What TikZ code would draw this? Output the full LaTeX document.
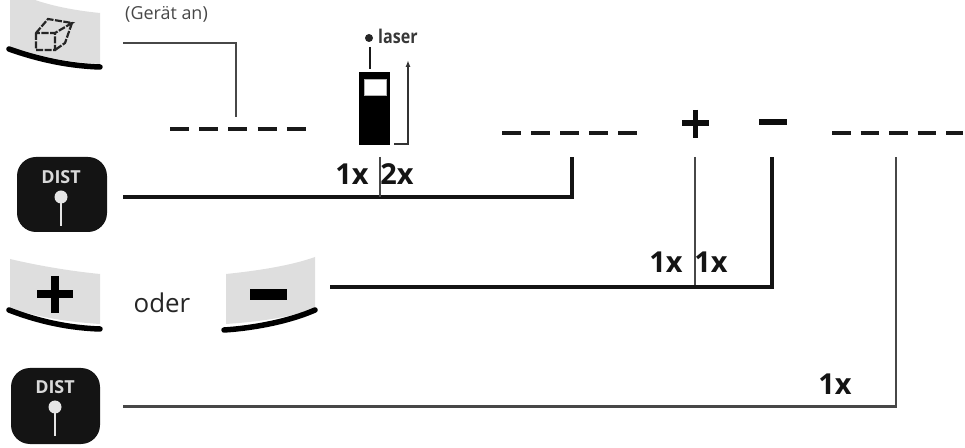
\documentclass[tikz,border=0pt]{standalone}
\usepackage{fontspec}
\setmainfont{Open Sans}
\usetikzlibrary{arrows.meta}
\tikzset{
 thickline/.style={line width=3.7bp,black!92},
 thinline/.style={line width=2bp,black!72},
 dashseg/.style={line width=4.5bp,black!90},
 keyface/.style={fill=black!13,draw=none},
 keyrim/.style={line width=5.5bp,line cap=round,black},
 lab/.style={inner sep=0pt,anchor=base,font=\fontsize{29}{34}\selectfont\bfseries,black!92},
 distlab/.style={white!85!black,inner sep=0pt,font=\fontsize{18}{20}\selectfont\bfseries},
}
\begin{document}
\begin{tikzpicture}[x=1bp,y=-1bp]
\useasboundingbox (0,0) rectangle (965,448);
% key 1
\fill[keyface] (10,0) -- (10,47) .. controls (40,58) and (70,62) .. (100,64) -- (100,13) .. controls (70,10) and (50,5) .. (35,0) -- cycle;
\draw[keyrim] (9,49) .. controls (40,60) and (70,66) .. (100,67);
\draw[line width=2.2bp,black!85,dash pattern=on 7bp off 1.5bp] (36,33) rectangle (55,50) (36,33) -- (48,19) -- (72,23) -- (55,33) (72,23) -- (65,43) -- (55,50);
\node[inner sep=0pt,anchor=base west,font=\fontsize{18}{20}\selectfont,black!72] (geraet) at (125,20) {(Gerät an)};
\coordinate (a1) at (123,43);
\coordinate (a2) at (236,43);
\coordinate (a3) at (236,117);
\draw[thinline] (a1) -- (a2) -- (a3);
\draw[dashseg,dash pattern=on 19bp off 10.2bp] (170,129) -- (306,129);
% laser device
\fill[black] (359,72) rectangle (390,145);
\fill[white,draw=black!30] (364,79) rectangle (386,95);
\fill[black!85] (369,38) circle (4bp);
\draw[line width=1.7bp,black!90] (370,47) -- (370,69);
\node[inner sep=0pt,font=\fontsize{19}{21}\selectfont\bfseries,black!78,xscale=.85,anchor=base west] (laser) at (378,44) {laser};
\draw[line width=1.7bp,black!80,-{Latex[length=7bp,width=5bp]}] (394,144) -- (408,144) -- (408,60);
\draw[dashseg,dash pattern=on 19bp off 10bp] (502,133) -- (637,133);
% DIST 1
\fill[black!92,rounded corners=19bp] (17,157) rectangle (107,232);
\node[distlab] (d1) at (61,177) {DIST};
\fill[white!90!black] (61,197) circle (6.5bp);
\draw[white!90!black,line width=1.5bp] (61,197) -- (61,226);
\draw[thickline] (123,197) -- (572,197) -- (572,157);
\draw[thinline] (380,157) -- (380,197);
\node[lab] (l1) at (352,185) {1x};
\node[lab] (l2) at (397,185) {2x};
% plus minus top
\draw[line width=5.5bp,black!95] (682,123) -- (709,123) (695.5,110) -- (695.5,138);
\draw[line width=6bp,black!95] (759,122) -- (787,122);
\draw[dashseg,dash pattern=on 18.5bp off 10bp] (832,133) -- (963,133);
\draw[thinline] (695,157) -- (695,287);
\draw[thickline] (330,287) -- (772,287) -- (772,157);
\node[lab] (l3) at (666,273) {1x};
\node[lab] (l4) at (711,273) {1x};
% plus key
\fill[keyface] (10,259) -- (10,308) .. controls (40,318) and (70,322) .. (100,324) -- (100,274) .. controls (70,271) and (40,266) .. (10,259) -- cycle;
\draw[keyrim] (9,310) .. controls (40,322) and (70,328) .. (100,329);
\draw[line width=8bp,black] (37,294) -- (73,294) (54.5,276) -- (54.5,313);
\node[inner sep=0pt,anchor=base,font=\fontsize{26}{30}\selectfont,black!85] (oder) at (162,313) {oder};
% minus key
\fill[keyface] (315,257) -- (315,308) .. controls (290,318) and (255,322) .. (226,324) -- (226,274) .. controls (255,271) and (290,266) .. (315,257) -- cycle;
\draw[keyrim] (315,310) .. controls (290,321) and (255,328) .. (224,330);
\fill[black] (250,289) rectangle (287,300);
% DIST 2
\fill[black!92,rounded corners=19bp] (11,368) rectangle (100,444);
\node[distlab] (d2) at (55,387) {DIST};
\fill[white!90!black] (55,407) circle (6.5bp);
\draw[white!90!black,line width=1.5bp] (55,407) -- (55,436);
\draw[thinline,line width=2.4bp] (123,406.5) -- (896,406.5) -- (896,157);
\node[lab] (l5) at (835,394) {1x};
\end{tikzpicture}
\end{document}
